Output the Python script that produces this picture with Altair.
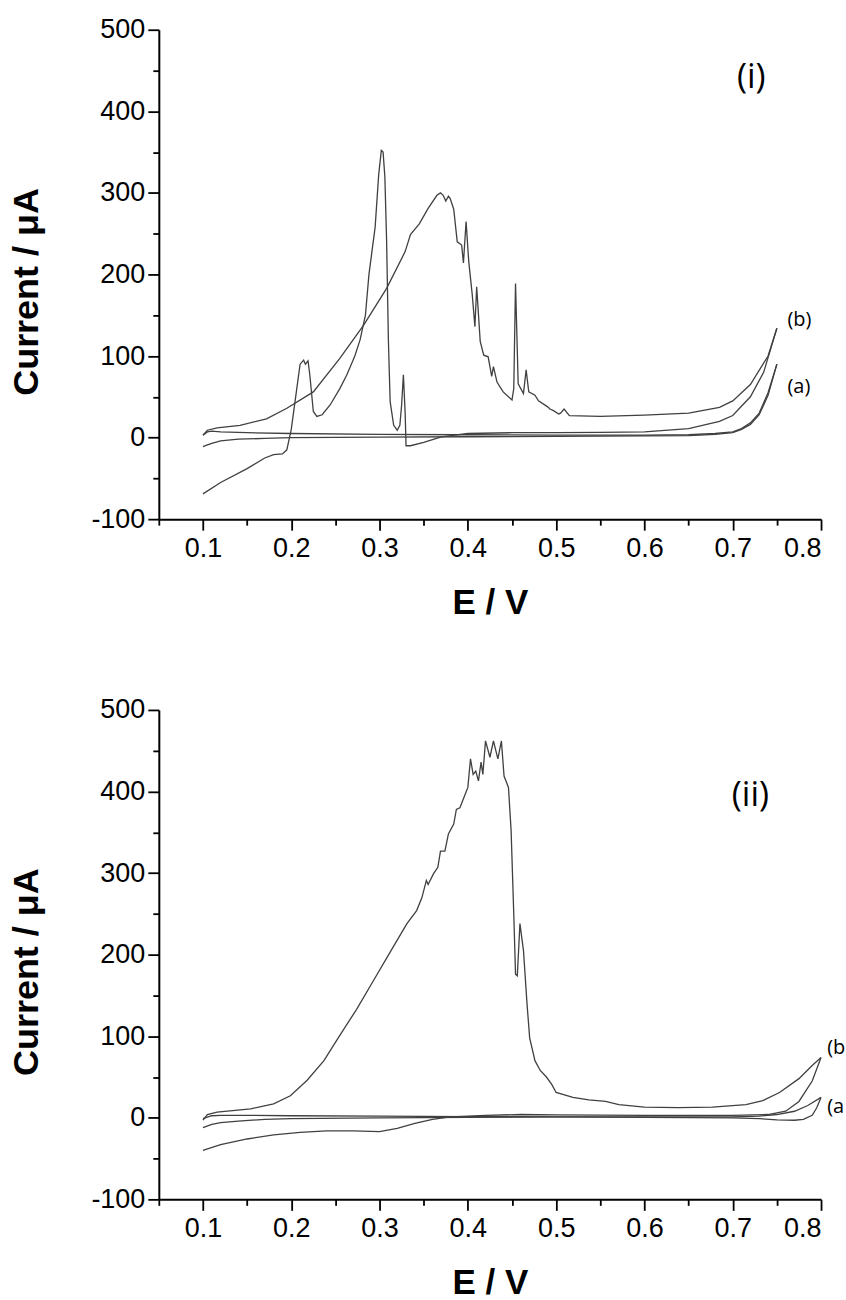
import altair as alt
import pandas as pd

# ---------------- Panel (i) ----------------
i_a_fwd_E = [0.1, 0.105, 0.11, 0.12, 0.14, 0.17, 0.2, 0.3, 0.4, 0.5, 0.6, 0.65, 0.68, 0.7, 0.71, 0.72, 0.73, 0.74, 0.75]
i_a_fwd_I = [-11, -9, -7, -4, -2, -1, 0, 0.5, 1, 1.5, 2, 2.5, 4, 6, 10, 16, 28, 52, 90]
i_a_rev_E = [0.75, 0.74, 0.73, 0.72, 0.71, 0.7, 0.68, 0.65, 0.6, 0.5, 0.4, 0.3, 0.2, 0.15, 0.12, 0.11, 0.105, 0.1]
i_a_rev_I = [90, 55, 30, 18, 11, 7, 5, 3.5, 3, 3, 3.5, 4, 5, 6, 7, 8, 7, 3]

i_b_fwd_E = [0.1, 0.12, 0.15, 0.17, 0.18, 0.19, 0.195, 0.2, 0.205, 0.21, 0.214, 0.216, 0.219, 0.221, 0.225,
             0.229, 0.235, 0.244, 0.255, 0.263, 0.272, 0.278, 0.284, 0.288, 0.291, 0.295, 0.299, 0.302, 0.304,
             0.306, 0.308, 0.31, 0.312, 0.316, 0.32, 0.323, 0.325, 0.327, 0.329, 0.33, 0.335, 0.35, 0.37, 0.4,
             0.45, 0.5, 0.55, 0.6, 0.65, 0.685, 0.7, 0.72, 0.735, 0.75]
i_b_fwd_I = [-69, -55, -38, -25, -21, -20, -15, 10, 50, 90, 95, 90, 94, 77, 32,
             26, 28, 40, 60, 77, 100, 120, 150, 200, 225, 258, 322, 352, 350,
             320, 241, 120, 44, 15, 9, 15, 40, 77, 30, -10, -10, -6, 1, 5,
             6, 6, 6.5, 7, 11, 20, 27, 50, 80, 134]

i_b_rev_E = [0.75, 0.74, 0.72, 0.7, 0.685, 0.65, 0.6, 0.55, 0.515, 0.509, 0.505, 0.503, 0.497, 0.493, 0.49,
             0.48, 0.476, 0.469, 0.466, 0.463, 0.457, 0.454, 0.452, 0.45, 0.44, 0.433, 0.429, 0.427, 0.423,
             0.418, 0.414, 0.41, 0.408, 0.405, 0.401, 0.398, 0.395, 0.393, 0.388, 0.384, 0.38, 0.378, 0.375,
             0.372, 0.369, 0.365, 0.355, 0.345, 0.335, 0.329, 0.308, 0.282, 0.255, 0.225, 0.195, 0.172, 0.142,
             0.116, 0.105, 0.1]
i_b_rev_I = [134, 100, 65, 45, 37, 30, 27.5, 26, 27, 35, 30, 29, 33, 35, 38,
             45, 52, 56, 83, 54, 66, 189, 60, 46, 56, 68, 87, 75, 99,
             101, 118, 185, 136, 175, 216, 265, 214, 236, 240, 280, 293, 296, 290,
             297, 300, 297, 281, 262, 249, 228, 183, 138, 97, 56, 36, 23, 15,
             12, 9, 3]

# ---------------- Panel (ii) ----------------
ii_a_fwd_E = [0.1, 0.11, 0.12, 0.14, 0.17, 0.2, 0.3, 0.4, 0.5, 0.6, 0.7, 0.73, 0.75, 0.77, 0.785, 0.8]
ii_a_fwd_I = [-12, -8, -6, -4, -2, -1, 0, 0.5, 1, 1, 1, 2, 4, 8, 15, 25]
ii_a_rev_E = [0.8, 0.795, 0.79, 0.78, 0.77, 0.75, 0.73, 0.7, 0.6, 0.5, 0.4, 0.3, 0.2, 0.15, 0.12, 0.11, 0.1]
ii_a_rev_I = [25, 12, 3, -2, -3, -2.5, -1, 0, 0.5, 1, 1.5, 2, 2.5, 3, 3, 2.5, -1]

ii_b_fwd_E = [0.1, 0.12, 0.15, 0.18, 0.21, 0.24, 0.27, 0.3, 0.32, 0.34, 0.36, 0.38, 0.42, 0.46, 0.5, 0.6,
              0.7, 0.74, 0.76, 0.775, 0.79, 0.8]
ii_b_fwd_I = [-40, -33, -26, -21, -18, -16, -16, -17, -13, -7, -2, 1, 3, 4, 3.5, 3,
              3, 4, 8, 20, 45, 74]
ii_b_rev_E = [0.8, 0.79, 0.775, 0.753, 0.734, 0.715, 0.677, 0.638, 0.6, 0.571, 0.556, 0.537, 0.519, 0.5,
              0.495, 0.489, 0.482, 0.476, 0.47, 0.467, 0.463, 0.459, 0.456, 0.454, 0.452, 0.449, 0.446,
              0.441, 0.438, 0.434, 0.429, 0.425, 0.42, 0.417, 0.415, 0.412, 0.409, 0.406, 0.403, 0.4,
              0.395, 0.391, 0.387, 0.384, 0.378, 0.374, 0.369, 0.366, 0.361, 0.355, 0.353, 0.348, 0.342,
              0.331, 0.312, 0.293, 0.274, 0.255, 0.237, 0.218, 0.199, 0.18, 0.154, 0.116, 0.105, 0.1]
ii_b_rev_I = [74, 64, 48, 31, 21, 16, 13, 12.5, 13, 16, 20, 22, 25, 31,
              41, 50, 58, 70, 98, 140, 205, 238, 174, 176, 250, 352, 405,
              419, 462, 440, 462, 442, 462, 421, 436, 413, 425, 421, 440, 405,
              391, 380, 378, 360, 348, 327, 327, 307, 299, 286, 291, 270, 254,
              238, 203, 168, 133, 101, 70, 46, 27, 17, 11, 7, 4, -3]

# ---------------- Annotations ----------------
lab_panel = ["i", "i", "i", "ii", "ii", "ii"]
lab_text = ["(i)", "(b)", "(a)", "(ii)", "(b", "(a"]
lab_E = [0.721, 0.762, 0.762, 0.72, 0.807, 0.807]
lab_I = [441, 144, 62, 395, 86, 13]
lab_size = ["big", "small", "small", "big", "small", "small"]

x_ticks = [0.05, 0.1, 0.15, 0.2, 0.25, 0.3, 0.35, 0.4, 0.45, 0.5, 0.55, 0.6, 0.65, 0.7, 0.75, 0.8]
y_ticks = [-100, -50, 0, 50, 100, 150, 200, 250, 300, 350, 400, 450, 500]

rows = []
def add(panel, series, E, I):
    for k, (e, v) in enumerate(zip(E, I)):
        rows.append({"panel": panel, "series": series, "idx": k, "E": e, "I": v})

add("i", "a_fwd", i_a_fwd_E, i_a_fwd_I)
add("i", "a_rev", i_a_rev_E, i_a_rev_I)
add("i", "b_fwd", i_b_fwd_E, i_b_fwd_I)
add("i", "b_rev", i_b_rev_E, i_b_rev_I)
add("ii", "a_fwd", ii_a_fwd_E, ii_a_fwd_I)
add("ii", "a_rev", ii_a_rev_E, ii_a_rev_I)
add("ii", "b_fwd", ii_b_fwd_E, ii_b_fwd_I)
add("ii", "b_rev", ii_b_rev_E, ii_b_rev_I)
df = pd.DataFrame(rows)
labels = pd.DataFrame({"panel": lab_panel, "text": lab_text, "E": lab_E, "I": lab_I, "size": lab_size})

W, H = 663, 490
TICK_FONT = "Liberation Sans, Arial"
TITLE_FONT = "Liberation Sans, Arial"
xscale = alt.Scale(domain=[0.05, 0.8], nice=False, zero=False)
yscale = alt.Scale(domain=[-100, 500], nice=False, zero=False)

x_major_test = "abs(datum.value * 10 - round(datum.value * 10)) < 0.001"
y_major_test = "datum.value % 100 == 0"

x_axis = alt.Axis(
    values=x_ticks,
    labelExpr=x_major_test + " ? format(datum.value, '.1f') : ''",
    tickSize={"condition": {"test": x_major_test, "value": 11}, "value": 6},
    tickWidth=1.8, tickColor="black",
    domainColor="black", domainWidth=2, labelFont=TICK_FONT, labelFontSize=27,
    labelColor="black", labelPadding=5, grid=False, orient="bottom", labelOverlap=False,
    title="E / V", titleFont=TITLE_FONT, titleFontSize=35, titleFontWeight="bold",
    titleColor="black", titleX=W / 2, titleY=83, titleBaseline="middle",
    titleAlign="center")
y_axis = alt.Axis(
    values=y_ticks,
    labelExpr=y_major_test + " ? toString(datum.value) : ''",
    tickSize={"condition": {"test": y_major_test, "value": 11}, "value": 6},
    tickWidth=1.8, tickColor="black",
    domainColor="black", domainWidth=2, labelFont=TICK_FONT, labelFontSize=27,
    labelColor="black", labelPadding=3, grid=False, orient="left", labelOverlap=False,
    title="Current / \u03bcA", titleFont=TITLE_FONT, titleFontSize=36, titleFontWeight="bold",
    titleColor="black", titleX=-132, titleY=H / 2 + 17, titleBaseline="middle",
    titleAlign="center", titleAngle=270)


def panel(pid):
    d = df[df.panel == pid]
    lines = alt.Chart(d).mark_line(color="#404040", strokeWidth=1.3).encode(
        x=alt.X("E:Q", scale=xscale, axis=x_axis),
        y=alt.Y("I:Q", scale=yscale, axis=y_axis),
        detail="series:N",
        order="idx:Q",
    )
    lab = labels[labels.panel == pid]
    big = alt.Chart(lab[lab["size"] == "big"]).mark_text(
        font="Open Sans", fontSize=34, color="black", align="center", baseline="middle").encode(
        x=alt.X("E:Q", scale=xscale, axis=x_axis), y=alt.Y("I:Q", scale=yscale, axis=y_axis), text="text:N")
    small = alt.Chart(lab[lab["size"] == "small"]).mark_text(
        font="Open Sans", fontSize=20, color="black", align="left", baseline="middle").encode(
        x=alt.X("E:Q", scale=xscale, axis=x_axis), y=alt.Y("I:Q", scale=yscale, axis=y_axis), text="text:N")
    return alt.layer(lines, big, small).properties(width=W, height=H)


chart = alt.vconcat(panel("i"), panel("ii"), spacing=191, bounds="flush").properties(
    padding={"left": 9, "top": 15, "right": 0, "bottom": 0}
).configure(background="white").configure_view(strokeWidth=0, stroke="transparent")

chart.save("out.html", embed_options={"renderer": "svg", "actions": False})
